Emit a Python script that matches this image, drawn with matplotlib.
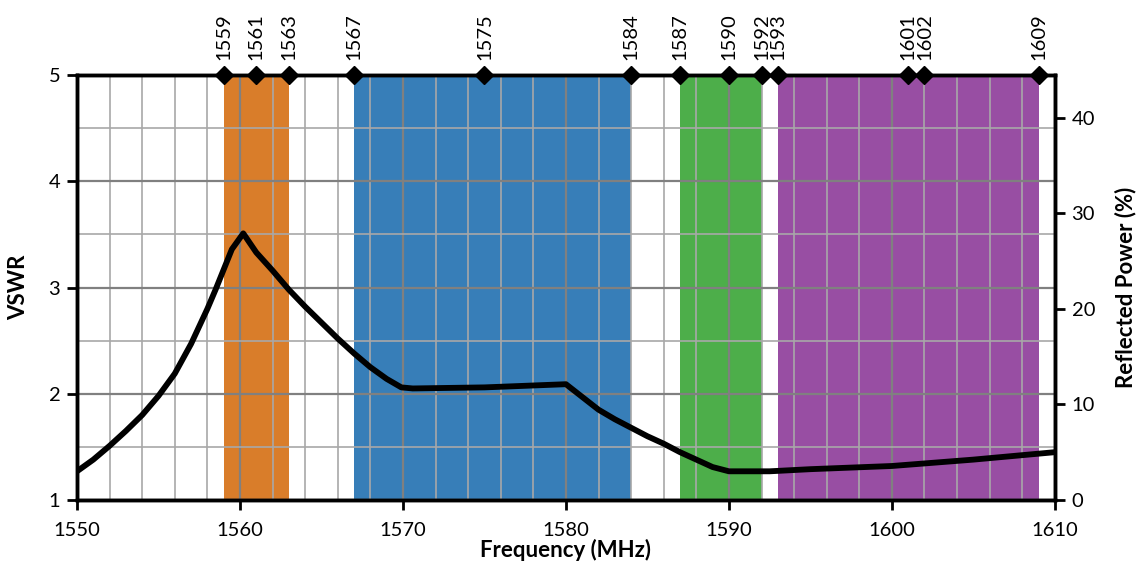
import matplotlib
matplotlib.use("Agg")
import matplotlib.pyplot as plt
from matplotlib.ticker import MultipleLocator

plt.rcParams['font.family'] = ['Lato', 'DejaVu Sans']

# curva VSWR
freq = [1550, 1551, 1552, 1553, 1554, 1555, 1556, 1557, 1558, 1558.5, 1559, 1559.5,
        1560.2, 1561, 1562, 1563, 1564, 1565, 1566, 1567, 1568, 1569, 1569.9,
        1570.6, 1575, 1580, 1581, 1582, 1583, 1584, 1585, 1586, 1587, 1588, 1589,
        1590, 1592.5, 1595, 1600, 1605, 1610]
vswr = [1.27, 1.38, 1.51, 1.65, 1.80, 1.98, 2.19, 2.47, 2.80, 2.98, 3.17, 3.36,
        3.51, 3.33, 3.16, 2.98, 2.82, 2.67, 2.52, 2.38, 2.25, 2.14, 2.06,
        2.05, 2.06, 2.09, 1.97, 1.85, 1.76, 1.68, 1.60, 1.53, 1.45, 1.38, 1.31,
        1.27, 1.27, 1.29, 1.32, 1.38, 1.45]

# bandas de frecuencia
band_start = [1559, 1567, 1587, 1593]
band_end = [1563, 1584, 1592, 1609]
band_colors = ['#D97D2A', '#377EB8', '#4DAE4A', '#984EA3']

# marcadores de la parte superior
top_marks = [1559, 1561, 1563, 1567, 1575, 1584, 1587, 1590, 1592, 1593, 1601, 1602, 1609]

fig = plt.figure(figsize=(11.41, 5.69), dpi=100)
ax = fig.add_axes([0.0675, 0.1213, 0.857, 0.7467])

for s, e, c in zip(band_start, band_end, band_colors):
    ax.axvspan(s, e, color=c, lw=0, zorder=0)

ax.set_xlim(1550, 1610)
ax.set_ylim(1, 5)
ax.xaxis.set_major_locator(MultipleLocator(10))
ax.xaxis.set_minor_locator(MultipleLocator(2))
ax.yaxis.set_major_locator(MultipleLocator(1))
ax.yaxis.set_minor_locator(MultipleLocator(0.5))
ax.set_axisbelow(False)
ax.grid(which='major', color='#808080', lw=1.6, zorder=1)
ax.grid(which='minor', color='#a8a8a8', lw=1.2, zorder=1)
ax.tick_params(which='minor', length=0)
ax.tick_params(which='major', direction='out', length=7, width=2, labelsize=14.5, pad=5)
ax.tick_params(axis='x', pad=9)

ax.plot(freq, vswr, color='black', lw=4.2, zorder=3, solid_joinstyle='round')

for sp in ax.spines.values():
    sp.set_linewidth(2.5)
    sp.set_zorder(4)

ax.plot(top_marks, [5] * len(top_marks), 'D', color='black', ms=9, clip_on=False, zorder=5)
for m in top_marks:
    ax.annotate(str(m), (m, 5), xytext=(0, 11), textcoords='offset points',
                rotation=90, ha='center', va='bottom', fontsize=14.5)

ax.set_xlabel('Frequency (MHz)', fontsize=16, fontweight='bold', labelpad=0)
ax.set_ylabel('VSWR', fontsize=16, fontweight='bold', labelpad=14)

ax2 = ax.twinx()
ax2.set_ylim(0, 44.44)
ax2.yaxis.set_major_locator(MultipleLocator(10))
ax2.tick_params(direction='out', length=7, width=2, labelsize=14.5, pad=5)
ax2.set_ylabel('Reflected Power (%)', fontsize=16, fontweight='bold', labelpad=14)
for sp in ax2.spines.values():
    sp.set_linewidth(2.5)

fig.savefig('out.png', dpi=100)
plt.close()
